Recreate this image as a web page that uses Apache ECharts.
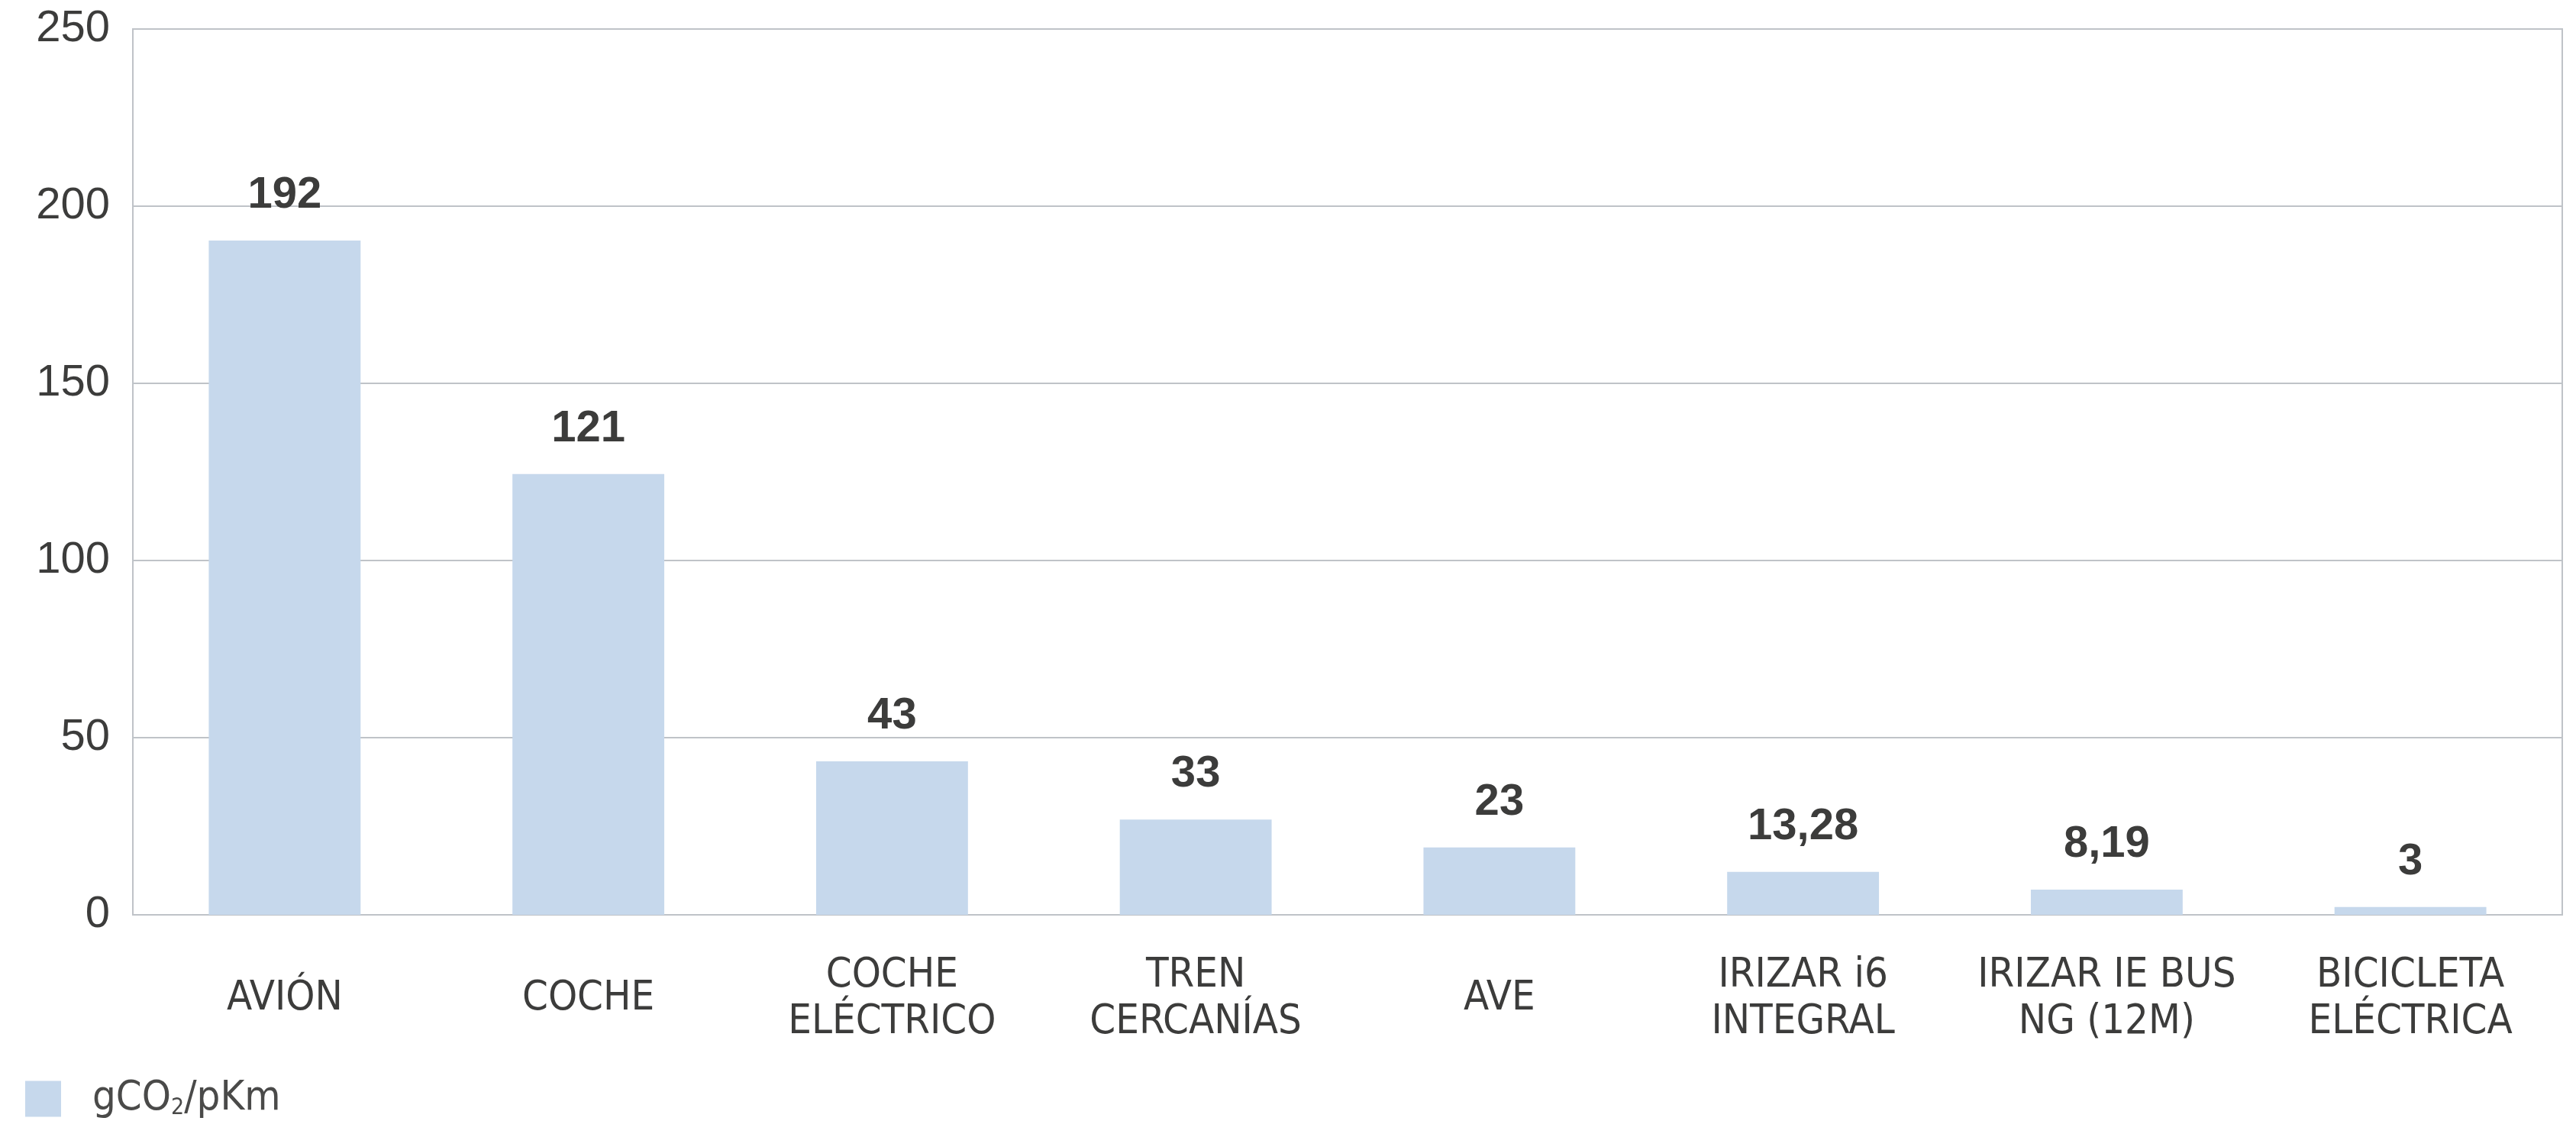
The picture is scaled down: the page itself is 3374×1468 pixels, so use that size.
<!DOCTYPE html>
<html>
<head>
<meta charset="utf-8">
<script src="https://cdn.jsdelivr.net/npm/echarts@6/dist/echarts.min.js"></script>
<style>
  html, body { margin: 0; padding: 0; background: #fff; }
  #chart { width: 3374px; height: 1468px; }
</style>
</head>
<body>
<div id="chart"></div>
<script>
// categories (x axis)
var categories = [
  'AVIÓN', 'COCHE', 'COCHE\nELÉCTRICO', 'TREN\nCERCANÍAS', 'AVE',
  'IRIZAR i6\nINTEGRAL', 'IRIZAR IE BUS\nNG (12M)', 'BICICLETA\nELÉCTRICA'
]
// bar heights as drawn in the picture
var barValues = [190.3, 124.4, 43.3, 26.9, 19.0, 12.1, 7.1, 2.2]
// value labels printed over the bars
var valueLabels = ['192', '121', '43', '33', '23', '13,28', '8,19', '3']
// y axis ticks
var yMin = 0
var yMax = 250
var yStep = 50

var gridColor = '#bfc3c8'
var textColor = '#3c3c3b'
var narrow = "'Liberation Sans Narrow', 'DejaVu Sans Condensed', 'Liberation Sans', sans-serif"
var regular = "'Liberation Sans', 'DejaVu Sans', sans-serif"

var chart = echarts.init(document.getElementById('chart'))
chart.setOption({
  animation: false,
  backgroundColor: '#fff',
  grid: {
    left: 174,
    right: 18,
    top: 38,
    bottom: 270,
    show: true,
    borderColor: gridColor,
    borderWidth: 2
  },
  legend: {
    left: 28,
    top: 1407,
    icon: 'rect',
    itemWidth: 47,
    itemHeight: 47,
    formatter: function () {
      return '{a|gCO}{s|2}{a|/pKm}'
    },
    textStyle: {
      padding: [0, 0, 0, 36],
      rich: {
        a: { fontFamily: narrow, fontSize: 54, color: '#4a4a49' },
        s: { fontFamily: narrow, fontSize: 30, color: '#4a4a49', verticalAlign: 'bottom', padding: [22, 0, 0, 0] }
      }
    },
    data: ['gCO2/pKm']
  },
  xAxis: {
    type: 'category',
    data: categories,
    axisTick: { show: false },
    axisLine: { show: true, lineStyle: { color: gridColor, width: 2 } },
    axisLabel: {
      interval: 0,
      margin: 110,
      verticalAlign: 'middle',
      fontFamily: narrow,
      fontSize: 54,
      lineHeight: 61,
      color: textColor
    }
  },
  yAxis: {
    type: 'value',
    min: yMin,
    max: yMax,
    interval: yStep,
    axisLine: { show: true, lineStyle: { color: gridColor, width: 2 } },
    axisTick: { show: false },
    splitLine: { show: true, lineStyle: { color: gridColor, width: 2 } },
    axisLabel: {
      margin: 30,
      fontFamily: regular,
      fontSize: 58,
      color: textColor
    }
  },
  series: [
    {
      name: 'gCO2/pKm',
      type: 'bar',
      data: barValues,
      barWidth: '50%',
      itemStyle: { color: '#c6d8ec' },
      label: {
        show: true,
        position: 'top',
        distance: 30,
        fontFamily: regular,
        fontWeight: 'bold',
        fontSize: 58,
        color: textColor,
        formatter: function (p) {
          return valueLabels[p.dataIndex]
        }
      }
    }
  ]
})
</script>
</body>
</html>
